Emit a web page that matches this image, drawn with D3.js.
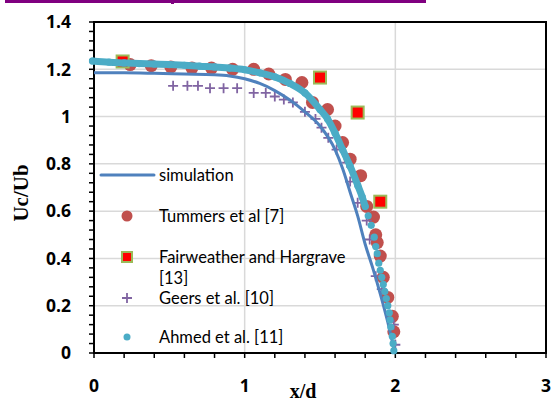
<!DOCTYPE html>
<html>
<head>
<meta charset="utf-8">
<script src="https://cdn.jsdelivr.net/npm/d3@7"></script>
<style>
  body { margin: 0; background: #fff; }
  svg { display: block; }
</style>
</head>
<body>
<div id="chart"></div>
<script>
// values
const simulation = [[0,1.185],[0.2,1.185],[0.4,1.183],[0.6,1.18],[0.8,1.177],[0.9,1.172],[1.0,1.16],[1.1,1.14],[1.2,1.11],[1.3,1.07],[1.4,1.02],[1.5,0.96],[1.6,0.86],[1.65,0.78],[1.7,0.68],[1.75,0.58],[1.8,0.46],[1.85,0.36],[1.9,0.25],[1.95,0.13],[1.99,0.02]]
const tummers = [[0.24,1.22],[0.38,1.215],[0.51,1.21],[0.65,1.205],[0.78,1.205],[0.92,1.2],[1.06,1.2],[1.16,1.18],[1.27,1.157],[1.38,1.144],[1.45,1.06],[1.55,1.03],[1.6,0.96],[1.65,0.89],[1.7,0.82],[1.77,0.75],[1.81,0.62],[1.855,0.575],[1.87,0.5],[1.88,0.467],[1.9,0.41],[1.92,0.32],[1.95,0.235],[1.98,0.155],[1.99,0.09]]
const fairweather = [[0.19,1.233],[1.5,1.165],[1.75,1.017],[1.9,0.64]]
const geers = [[0.525,1.13],[0.62,1.13],[0.69,1.13],[0.77,1.12],[0.86,1.12],[0.95,1.12],[1.06,1.1],[1.14,1.1],[1.2,1.085],[1.26,1.072],[1.32,1.06],[1.4,1.02],[1.47,0.99],[1.51,0.953],[1.555,0.91],[1.61,0.86],[1.68,0.805],[1.7,0.725],[1.75,0.635],[1.81,0.56],[1.83,0.48],[1.87,0.325],[1.91,0.27],[1.99,0.12],[2.0,0.035]]
const ahmed = [[-0.01,1.235],[0.1,1.23],[0.2,1.227],[0.3,1.224],[0.4,1.222],[0.5,1.22],[0.6,1.217],[0.7,1.213],[0.8,1.21],[0.9,1.205],[1.0,1.198],[1.1,1.185],[1.2,1.168],[1.3,1.14],[1.4,1.1],[1.5,1.03],[1.55,0.99],[1.6,0.93],[1.65,0.86],[1.7,0.79],[1.75,0.71],[1.78,0.66],[1.8,0.62],[1.82,0.58],[1.84,0.54],[1.86,0.49],[1.87,0.45],[1.88,0.42],[1.89,0.38],[1.9,0.35],[1.91,0.32],[1.92,0.29],[1.93,0.26],[1.94,0.23],[1.95,0.2],[1.96,0.17],[1.965,0.14],[1.97,0.11],[1.98,0.07],[1.985,0.04],[1.99,0.01]]

const xTicks = [0, 1, 2, 3]
const yTicks = [0, 0.2, 0.4, 0.6, 0.8, 1, 1.2, 1.4]
const legendLabels = ["simulation", "Tummers et al [7]", "Fairweather and Hargrave", "Geers et al. [10]", "Ahmed et al. [11]"]

const W = 555, H = 403
const margin = {top: 22, right: 9, bottom: 50, left: 94}
const width = W - margin.left - margin.right
const height = H - margin.top - margin.bottom

const svg = d3.select("#chart").append("svg")
    .attr("width", W)
    .attr("height", H)

// cut-off title underline at the very top
svg.append("rect").attr("x", 5).attr("y", 0).attr("width", 421).attr("height", 3).attr("fill", "#800080")
svg.append("rect").attr("x", 171).attr("y", 2).attr("width", 3).attr("height", 2).attr("fill", "#800080")

const g = svg.append("g").attr("transform", `translate(${margin.left},${margin.top})`)

const x = d3.scaleLinear().domain([0, 3]).range([0, width])
const y = d3.scaleLinear().domain([0, 1.4]).range([height, 0])

// gridlines
g.selectAll(".hgrid").data(yTicks.slice(1, -1)).join("line")
    .attr("x1", 0).attr("x2", width)
    .attr("y1", d => y(d)).attr("y2", d => y(d))
    .attr("stroke", "#d9d9d9").attr("stroke-width", 1.5)
g.selectAll(".vgrid").data(xTicks.slice(1, -1)).join("line")
    .attr("y1", 0).attr("y2", height)
    .attr("x1", d => x(d)).attr("x2", d => x(d))
    .attr("stroke", "#d9d9d9").attr("stroke-width", 1.5)

// minor ticks
const yMinor = d3.range(0, 1.4001, 0.04)
const xMinor = d3.range(0, 3.0001, 0.2)
g.selectAll(".ymin").data(yMinor).join("line")
    .attr("x1", -5).attr("x2", 0)
    .attr("y1", d => y(d)).attr("y2", d => y(d))
    .attr("stroke", "#000").attr("stroke-width", 1.5)
g.selectAll(".xmin").data(xMinor).join("line")
    .attr("y1", height).attr("y2", height + 5)
    .attr("x1", d => x(d)).attr("x2", d => x(d))
    .attr("stroke", "#000").attr("stroke-width", 1.5)

// frame
g.append("rect").attr("width", width).attr("height", height)
    .attr("fill", "none").attr("stroke", "#000").attr("stroke-width", 2)

// tick labels
g.selectAll(".ylab").data(yTicks).join("text")
    .attr("x", -23).attr("y", d => y(d)).attr("dy", "0.36em")
    .attr("text-anchor", "end")
    .attr("font-family", "'Open Sans', sans-serif").attr("font-weight", "bold").attr("font-size", 17.5)
    .text(d => d)
g.selectAll(".xlab").data(xTicks).join("text")
    .attr("x", d => x(d)).attr("y", height + 33).attr("dy", "0.36em")
    .attr("text-anchor", "middle")
    .attr("font-family", "'Open Sans', sans-serif").attr("font-weight", "bold").attr("font-size", 17.5)
    .text(d => d)

// axis titles
svg.append("text").attr("transform", "translate(28,193) rotate(-90)")
    .attr("text-anchor", "middle")
    .attr("font-family", "'Liberation Serif', serif").attr("font-weight", "bold").attr("font-size", 21)
    .text("Uc/Ub")
svg.append("text").attr("x", 303).attr("y", 398)
    .attr("text-anchor", "middle")
    .attr("font-family", "'Liberation Serif', serif").attr("font-weight", "bold").attr("font-size", 20)
    .text("x/d")

const line = d3.line().x(d => x(d[0])).y(d => y(d[1])).curve(d3.curveMonotoneX)

// Tummers circles
g.selectAll(".tum").data(tummers).join("circle")
    .attr("cx", d => x(d[0])).attr("cy", d => y(d[1])).attr("r", 6.5)
    .attr("fill", "#c0504d")

// Fairweather squares
g.selectAll(".fw").data(fairweather).join("rect")
    .attr("x", d => x(d[0]) - 6).attr("y", d => y(d[1]) - 6)
    .attr("width", 12).attr("height", 12)
    .attr("fill", "#ff0000").attr("stroke", "#9bbb59").attr("stroke-width", 2)

// Geers pluses
const plus = (sel, s) => sel.attr("d", `M${-s},0H${s}M0,${-s}V${s}`)
    .attr("stroke", "#8064a2").attr("stroke-width", 1.8).attr("fill", "none")
g.selectAll(".gr").data(geers).join("path")
    .attr("transform", d => `translate(${x(d[0])},${y(d[1])})`)
    .call(plus, 5)

// simulation line
g.append("path").datum(simulation)
    .attr("d", line)
    .attr("fill", "none").attr("stroke", "#4f81bd").attr("stroke-width", 3)

// Ahmed: dense markers, drawn with a thick trace plus dots
g.append("path").datum(ahmed.filter(d => d[1] > 0.6))
    .attr("d", line)
    .attr("fill", "none").attr("stroke", "#4bacc6").attr("stroke-width", 7).attr("stroke-linecap", "round")
g.selectAll(".ah").data(ahmed).join("circle")
    .attr("cx", d => x(d[0])).attr("cy", d => y(d[1])).attr("r", 3.6)
    .attr("fill", "#4bacc6")

// legend
const legY = [175, 216, 257, 298, 337]
const leg = svg.append("g")
leg.append("line").attr("x1", 101).attr("x2", 154).attr("y1", legY[0]).attr("y2", legY[0])
    .attr("stroke", "#4f81bd").attr("stroke-width", 3).attr("stroke-linecap", "round")
leg.append("circle").attr("cx", 127).attr("cy", legY[1]).attr("r", 5.5).attr("fill", "#c0504d")
leg.append("rect").attr("x", 122).attr("y", legY[2] - 5).attr("width", 10).attr("height", 10)
    .attr("fill", "#ff0000").attr("stroke", "#9bbb59").attr("stroke-width", 2)
leg.append("path").attr("transform", `translate(127,${legY[3]})`).call(plus, 5)
leg.append("circle").attr("cx", 127).attr("cy", legY[4]).attr("r", 3.5).attr("fill", "#4bacc6")

leg.selectAll("text").data(legendLabels).join("text")
    .attr("x", 159).attr("y", (d, i) => legY[i]).attr("dy", "0.35em")
    .attr("font-family", "Lato, sans-serif").attr("font-size", 16.5).attr("fill", "#000")
    .text(d => d)
leg.append("text").attr("x", 159).attr("y", 278).attr("dy", "0.35em")
    .attr("font-family", "Lato, sans-serif").attr("font-size", 16.5).attr("fill", "#000")
    .text("[13]")
</script>
</body>
</html>
